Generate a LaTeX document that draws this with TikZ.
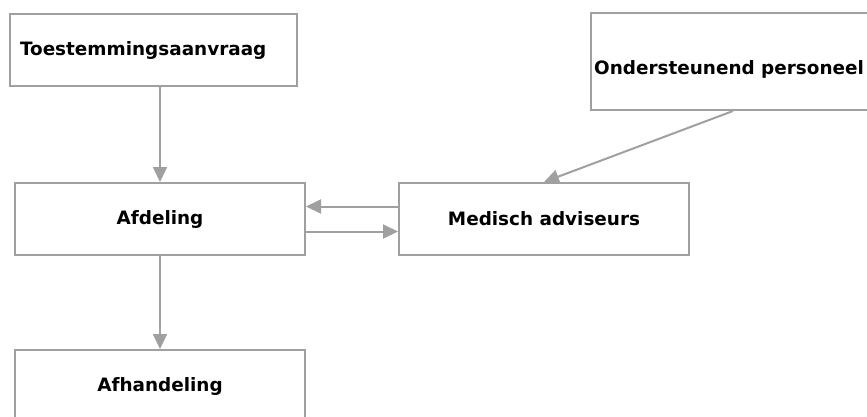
\documentclass[tikz,border=0pt]{standalone}
\usepackage{fontspec}
\setmainfont{DejaVu Sans}
\usetikzlibrary{arrows.meta}
\definecolor{lijn}{RGB}{160,160,160}
\tikzset{
  blok/.style={draw=lijn, line width=2pt, minimum width=290pt, minimum height=72pt,
    inner sep=0pt, font=\fontsize{18.4}{22}\selectfont\bfseries},
  pijl/.style={draw=lijn, line width=2pt, -{Triangle[length=15pt,width=14pt]}}
}
\begin{document}
\begin{tikzpicture}[x=1pt,y=-1pt]
\useasboundingbox (0,0) rectangle (867,416);

% Blokken
\node[blok, anchor=north west, minimum width=287pt, text width=267pt, align=left] (toe) at (9,13) {Toestemmingsaanvraag};
\node[blok, anchor=north west] (afd) at (14,182) {Afdeling};
\node[blok, anchor=north west] (med) at (398,182) {Medisch adviseurs};
\node[blok, anchor=north west] (afh) at (14,349) {Afhandeling};
\node[blok, anchor=north west, minimum width=284pt, minimum height=97pt] (ondbox) at (590,12) {};
\node[font=\fontsize{18.4}{22}\selectfont\bfseries, anchor=west, inner sep=0pt] (ond) at ([xshift=4pt,yshift=-8pt]ondbox.west) {Ondersteunend personeel};

% Pijlen
\draw[pijl] (toe.south -| afd.north) -- (afd.north);
\draw[pijl] (afd) -- (afh);
\draw[pijl] ([yshift=12.5pt]med.west) -- ([yshift=12.5pt]afd.east);
\draw[pijl] ([yshift=-12.5pt]afd.east) -- ([yshift=-12.5pt]med.west);
\draw[pijl] (ondbox.south) -- (med.north);

\end{tikzpicture}
\end{document}
